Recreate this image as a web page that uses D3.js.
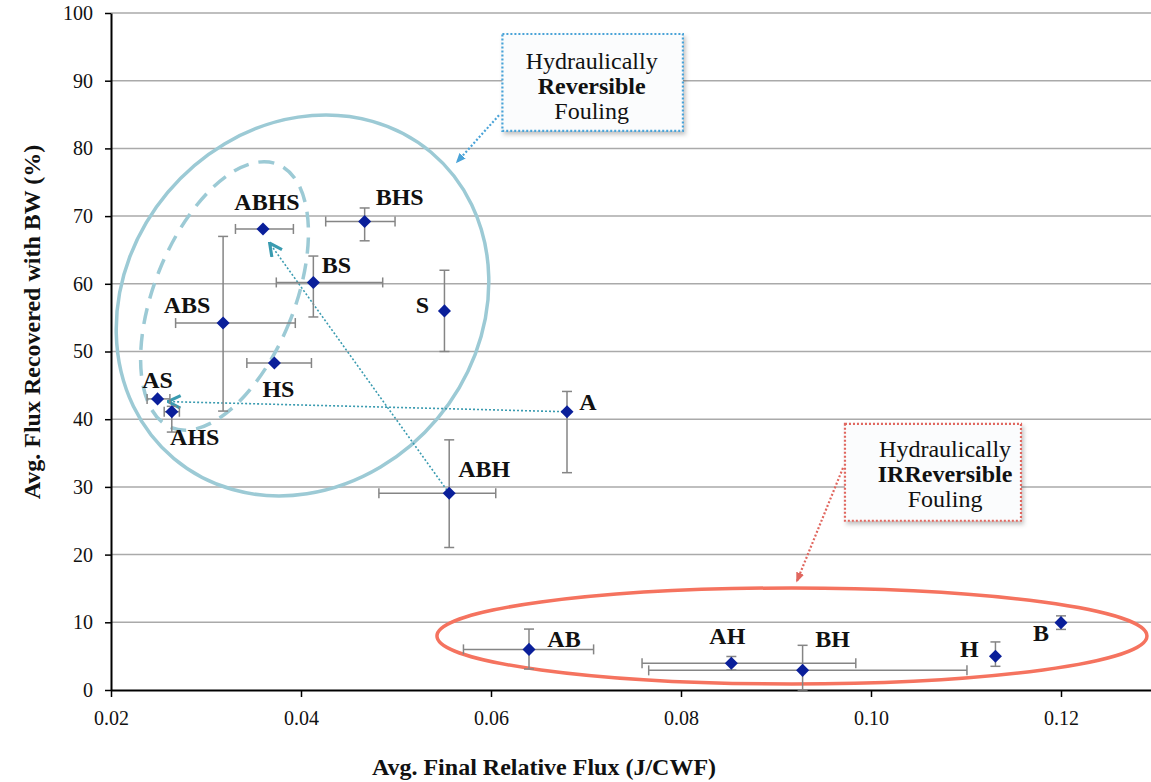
<!DOCTYPE html>
<html><head><meta charset="utf-8">
<script src="https://cdn.jsdelivr.net/npm/d3@7"></script>
<style>
html,body{margin:0;padding:0;background:#fff;}
svg{display:block;}
svg text{font-family:"Liberation Serif","Tinos","Times New Roman",Times,serif !important;}
</style></head>
<body>
<svg id="chart" width="1151" height="782"></svg>
<script>
// ---- data ----
const names     = ["ABHS","BHS","BS","S","ABS","HS","AS","AHS","A","ABH","AB","AH","BH","H","B"];
const xValues   = [0.0360,0.0467,0.0413,0.0551,0.0318,0.0372,0.0249,0.0264,0.0680,0.0556,0.0640,0.0853,0.0928,0.1131,0.1200];
const yValues   = [68.1,69.2,60.2,56.0,54.2,48.3,43.0,41.1,41.1,29.05,6.0,3.95,2.9,5.0,9.95];
const xErrMinus = [0.0029,0.0041,0.0039,0,0.0050,0.0029,0.0011,0.0008,0,0.0074,0.0069,0.0094,0.0162,0,0];
const xErrPlus  = [0.0032,0.0032,0.0073,0,0.0076,0.0039,0.0013,0.0008,0,0.0049,0.0068,0.0131,0.0173,0,0];
const yErrMinus = [0,2.85,5.1,6.0,13.0,0,0,3.0,9.0,8.0,2.9,1.0,2.9,1.5,1.0];
const yErrPlus  = [0,2.0,3.9,6.0,12.8,0,0,0.8,3.0,7.9,3.0,1.0,3.7,2.1,1.0];
const xTicks    = [0.02,0.04,0.06,0.08,0.10,0.12];
const yTicks    = [0,10,20,30,40,50,60,70,80,90,100];
const xTitle = "Avg. Final Relative Flux (J/CWF)";
const yTitle = "Avg. Flux Recovered with BW (%)";

// ---- layout (label offsets in px) ----
const labelOffset = {
  ABHS:[4,-27], BHS:[35,-25], BS:[23,-18], S:[-22,-6], ABS:[-36,-18], HS:[4,26],
  AS:[0,-19], AHS:[23,25], A:[21,-10], ABH:[35,-25], AB:[35,-11], AH:[-4,-28],
  BH:[30,-32], H:[-26,-8], B:[-20,10]
};

const svg = d3.select("#chart");
const W = 1151, H = 782;
const x = d3.scaleLinear().domain([0.02, 0.13]).range([111, 1156]);
const y = d3.scaleLinear().domain([0, 100]).range([690, 13]);

const defs = svg.append("defs");
const sh = defs.append("filter").attr("id","shadow").attr("x","-10%").attr("y","-10%").attr("width","130%").attr("height","130%");
sh.append("feDropShadow").attr("dx",2).attr("dy",3).attr("stdDeviation",2).attr("flood-color","#000").attr("flood-opacity",0.25);

function marker(id, color, open) {
  const m = defs.append("marker").attr("id", id)
    .attr("viewBox","0 0 12 12").attr("refX", open ? 11 : 10).attr("refY",6)
    .attr("markerWidth", open ? 15 : 10).attr("markerHeight", open ? 15 : 10)
    .attr("markerUnits","userSpaceOnUse").attr("orient","auto");
  if (open) m.append("path").attr("d","M1,1 L11,6 L1,11").attr("fill","none").attr("stroke",color).attr("stroke-width",2.5);
  else m.append("path").attr("d","M0,1 L12,6 L0,11 Z").attr("fill",color);
}
marker("arrTeal","#3a9bb0",true);
marker("arrBlue","#4aa3d8",false);
marker("arrRed","#e0665e",false);

// gridlines
svg.append("g").selectAll("line").data(yTicks.filter(v=>v>0)).join("line")
  .attr("x1", x(0.02)).attr("x2", W).attr("y1", d=>y(d)).attr("y2", d=>y(d))
  .attr("stroke","#aaaaaa").attr("stroke-width",1.5);

// ellipses (annotation)
const ellipses = [
  {cx:0.04016, cy:56.8, rx:176, ry:200, rot:40, color:"#9ccad5", dash:null},
  {cx:0.03195, cy:58.2, rx:70, ry:142, rot:22, color:"#9ccad5", dash:"16,10"},
  {cx:0.09168, cy:7.98, rx:355, ry:48, rot:0, color:"#f5735f", dash:null}
];
svg.append("g").selectAll("ellipse").data(ellipses).join("ellipse")
  .attr("cx",0).attr("cy",0).attr("rx",d=>d.rx).attr("ry",d=>d.ry)
  .attr("transform",d=>`translate(${x(d.cx)},${y(d.cy)}) rotate(${d.rot})`)
  .attr("fill","none").attr("stroke",d=>d.color).attr("stroke-width",3.5)
  .attr("stroke-dasharray",d=>d.dash);

// teal dotted arrows
const tealArrows = [
  {from:[0.0680,41.1], to:[0.0260,42.6]},
  {from:[0.0556,29.05], to:[0.0367,66.0]}
];
svg.append("g").selectAll("line").data(tealArrows).join("line")
  .attr("x1",d=>x(d.from[0])).attr("y1",d=>y(d.from[1]))
  .attr("x2",d=>x(d.to[0])).attr("y2",d=>y(d.to[1]))
  .attr("stroke","#3a9bb0").attr("stroke-width",1.6).attr("stroke-dasharray","2,2")
  .attr("marker-end","url(#arrTeal)");

// axes
const yAxis = d3.axisLeft(y).tickValues(yTicks).tickSize(6).tickSizeOuter(0).tickPadding(12).tickFormat(d3.format("d"));
const gy = svg.append("g").attr("transform",`translate(${x(0.02)},0)`).call(yAxis).attr("font-family",null).attr("font-size",null);
gy.select(".domain").attr("stroke","#000").attr("stroke-width",2);
gy.selectAll(".tick line").attr("stroke","#000").attr("stroke-width",1.5);
gy.selectAll("text").attr("font-size",20).attr("fill","#111");

const xAxis = d3.axisBottom(x).tickValues(xTicks).tickSize(7).tickSizeOuter(0).tickPadding(14).tickFormat(d3.format(".2f"));
const gx = svg.append("g").attr("transform",`translate(0,${y(0)})`).call(xAxis).attr("font-family",null).attr("font-size",null);
gx.select(".domain").attr("stroke","#000").attr("stroke-width",2);
gx.selectAll(".tick line").attr("stroke","#000").attr("stroke-width",1.5);
gx.selectAll("text").attr("font-size",20).attr("fill","#111");

// axis titles
svg.append("text").attr("x",544).attr("y",775).attr("text-anchor","middle")
  .attr("font-size",24).attr("font-weight","bold").attr("fill","#111").text(xTitle);
svg.append("text").attr("transform","translate(40,322) rotate(-90)").attr("text-anchor","middle")
  .attr("font-size",24).attr("font-weight","bold").attr("fill","#111").text(yTitle);

// error bars
const pts = names.map((n,i)=>({n, x:xValues[i], y:yValues[i], xm:xErrMinus[i], xp:xErrPlus[i], ym:yErrMinus[i], yp:yErrPlus[i]}));
const eb = svg.append("g").attr("stroke","#858585").attr("stroke-width",1.5).attr("fill","none");
const cap = 5;
pts.forEach(p=>{
  const px = x(p.x), py = y(p.y);
  if (p.xm>0 || p.xp>0) {
    const x1 = x(p.x - p.xm), x2 = x(p.x + p.xp);
    eb.append("line").attr("x1",x1).attr("x2",x2).attr("y1",py).attr("y2",py);
    eb.append("line").attr("x1",x1).attr("x2",x1).attr("y1",py-cap).attr("y2",py+cap);
    eb.append("line").attr("x1",x2).attr("x2",x2).attr("y1",py-cap).attr("y2",py+cap);
  }
  if (p.ym>0 || p.yp>0) {
    const y1 = y(p.y + p.yp), y2 = y(p.y - p.ym);
    eb.append("line").attr("x1",px).attr("x2",px).attr("y1",y1).attr("y2",y2);
    eb.append("line").attr("x1",px-cap).attr("x2",px+cap).attr("y1",y1).attr("y2",y1);
    eb.append("line").attr("x1",px-cap).attr("x2",px+cap).attr("y1",y2).attr("y2",y2);
  }
});

// markers
svg.append("g").selectAll("path").data(pts).join("path")
  .attr("d", d3.symbol().type(d3.symbolSquare).size(85))
  .attr("transform", d=>`translate(${x(d.x)},${y(d.y)}) rotate(45)`)
  .attr("fill","#0a1f9a");

// labels
svg.append("g").selectAll("text").data(pts).join("text")
  .attr("x", d=>x(d.x)+labelOffset[d.n][0]).attr("y", d=>y(d.y)+labelOffset[d.n][1])
  .attr("dy","0.35em").attr("text-anchor","middle")
  .attr("font-size",24).attr("font-weight","bold").attr("fill","#111").text(d=>d.n);

// callouts
const callouts = [
  {x0:0.0612, x1:0.0802, yTop:96.9, yBot:82.6, tx:0.0706, lines:[["Hydraulically",false],["Reversible",true],["Fouling",false]],
   ly:[93.0,89.3,85.6], border:"#4aa3d8", arrow:{from:[0.06084,84.9], to:[0.05642,78.0]}, mk:"arrBlue"},
  {x0:0.09726, x1:0.11579, yTop:39.3, yBot:25.0, tx:0.1078, lines:[["Hydraulically",false],["IRReversible",true],["Fouling",false]],
   ly:[35.7,32.0,28.3], border:"#e0665e", arrow:{from:[0.09705,32.8], to:[0.09221,16.1]}, mk:"arrRed"}
];
callouts.forEach(c=>{
  const g = svg.append("g");
  g.append("line").attr("x1",x(c.arrow.from[0])).attr("y1",y(c.arrow.from[1]))
    .attr("x2",x(c.arrow.to[0])).attr("y2",y(c.arrow.to[1]))
    .attr("stroke",c.border).attr("stroke-width",2.2).attr("stroke-dasharray","2,2")
    .attr("marker-end",`url(#${c.mk})`);
  g.append("rect").attr("x",x(c.x0)).attr("y",y(c.yTop)).attr("width",x(c.x1)-x(c.x0)).attr("height",y(c.yBot)-y(c.yTop))
    .attr("fill","#fbfcfd").attr("stroke",c.border).attr("stroke-width",2.2).attr("stroke-dasharray","2,2")
    .attr("filter","url(#shadow)");
  c.lines.forEach((l,i)=>{
    g.append("text").attr("x",x(c.tx)).attr("y",y(c.ly[i])).attr("dy","0.35em").attr("text-anchor","middle")
      .attr("font-size",24).attr("font-weight",l[1]?"bold":"normal").attr("fill","#111").text(l[0]);
  });
});
</script>
</body></html>
